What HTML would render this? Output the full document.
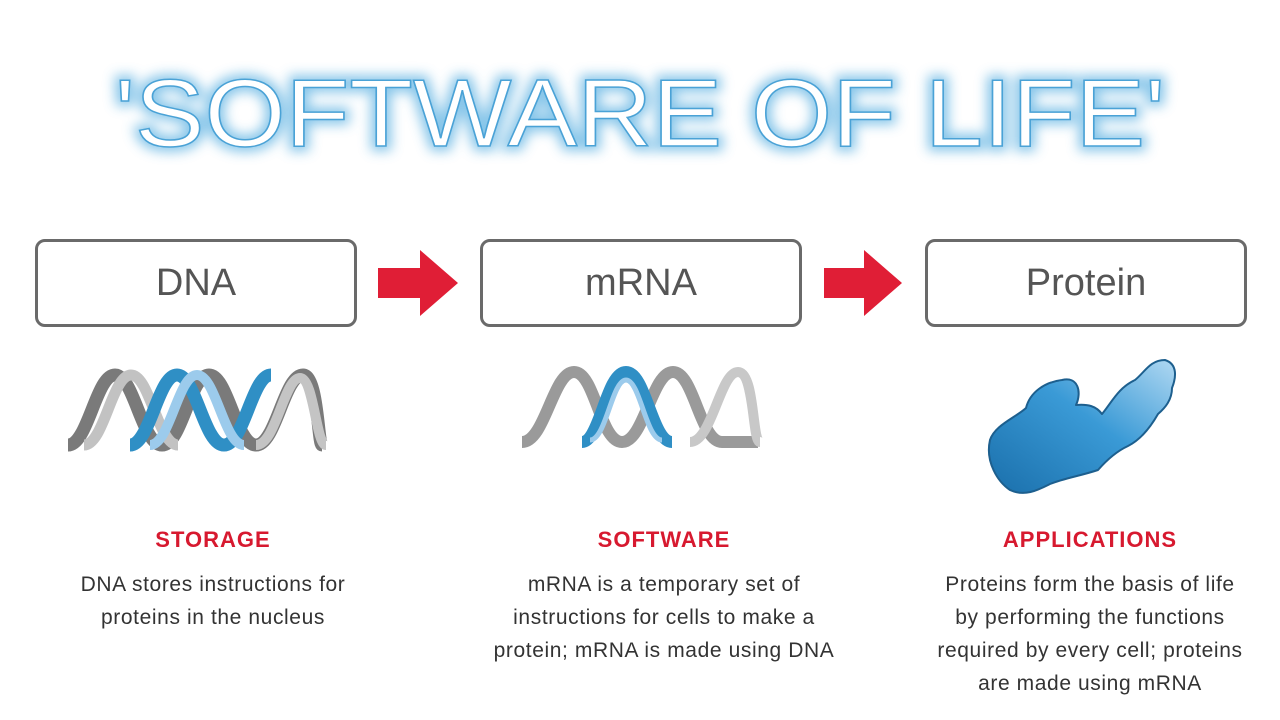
<!DOCTYPE html>
<html><head><meta charset="utf-8"><style>
body{margin:0;width:1280px;height:720px;background:#fff;overflow:hidden;position:relative;font-family:"Liberation Sans",sans-serif}
.box{position:absolute;top:239px;width:316px;height:82px;border:3px solid #6a6a6a;border-radius:10px;font-size:38px;color:#555;text-align:center;line-height:82px}
.h{position:absolute;width:400px;text-align:center;color:#d7192f;font-weight:bold;font-size:22px;top:527px;letter-spacing:1px}
.p{position:absolute;width:400px;text-align:center;color:#333;font-size:21px;line-height:33px;top:568px;letter-spacing:0.6px}
</style></head><body>
<svg width="1280" height="720" style="position:absolute;left:0;top:0">
<defs>
<filter id="g" x="-10%" y="-50%" width="120%" height="200%"><feGaussianBlur stdDeviation="6"/></filter>
<linearGradient id="pb" x1="0" y1="1" x2="1" y2="0"><stop offset="0" stop-color="#1a6fab"/><stop offset="0.55" stop-color="#3a9ad6"/><stop offset="1" stop-color="#b0d8f2"/></linearGradient>
</defs>
<text x="640" y="146" text-anchor="middle" font-family="Liberation Sans" font-size="96" textLength="1050" lengthAdjust="spacingAndGlyphs" fill="#5aaede" stroke="#6ab8e4" stroke-width="10" opacity="0.8" filter="url(#g)">'SOFTWARE OF LIFE'</text>
<text x="640" y="146" text-anchor="middle" font-family="Liberation Sans" font-size="96" textLength="1050" lengthAdjust="spacingAndGlyphs" fill="#fff" stroke="#4aa2d6" stroke-width="1.5">'SOFTWARE OF LIFE'</text>
<polygon points="378,268 420,268 420,250 458,283 420,316 420,298 378,298" fill="#e01e36"/>
<polygon points="824,268 864,268 864,250 902,283 864,316 864,298 824,298" fill="#e01e36"/>
<g fill="none" stroke-linecap="butt" stroke-linejoin="round">
<path d="M68,445 C88,445 96,375 115,375 C134,375 142,445 162,445 C182,445 190,375 209,375 C228,375 236,445 256,445 C276,445 284,375 303,375 C318,375 318,445 322,445" stroke="#7a7a7a" stroke-width="13"/>
<path d="M84,445 C104,445 112,375 131,375 C150,375 158,445 178,445" stroke="#c2c2c2" stroke-width="11"/>
<path d="M130,445 C150,445 158,375 177,375 C196,375 204,445 224,445 C244,445 252,375 271,375" stroke="#2f8fc5" stroke-width="13"/>
<path d="M150,445 C170,445 178,375 197,375 C216,375 224,445 244,445" stroke="#9ccbec" stroke-width="10"/>
<path d="M256,445 C276,445 284,378 300,378 C314,378 316,445 326,445" stroke="#c4c4c4" stroke-width="10"/>
<path d="M522,442 C545,442 553,372 574,372 C595,372 600,442 622,442 C644,442 652,372 673,372 C694,372 700,442 722,442 L758,442" stroke="#9a9a9a" stroke-width="12"/>
<path d="M582,442 C600,442 606,372 626,372 C646,372 652,442 672,442" stroke="#2f8fc5" stroke-width="12"/>
<path d="M590,440 C606,440 612,380 626,380 C640,380 646,440 662,440" stroke="#9ccbec" stroke-width="5"/>
<path d="M690,442 C712,442 720,372 738,372 C755,372 752,442 760,442" stroke="#c8c8c8" stroke-width="10"/>
</g>
<path d="M990,440 C995,425 1015,418 1026,408 C1030,392 1045,382 1062,380 C1078,376 1082,392 1076,405 C1088,404 1096,406 1102,414 C1112,402 1118,388 1135,380 C1145,372 1150,360 1165,360 C1178,364 1176,378 1172,388 C1172,400 1165,408 1158,414 C1150,428 1140,440 1128,446 C1115,452 1105,462 1098,470 C1080,476 1065,478 1050,484 C1038,490 1025,497 1010,490 C998,482 985,462 990,440 Z" fill="url(#pb)" stroke="#1d5f8e" stroke-width="2" stroke-linejoin="round"/>
</svg>
<div class="box" style="left:35px">DNA</div>
<div class="box" style="left:480px">mRNA</div>
<div class="box" style="left:925px">Protein</div>
<div class="h" style="left:13px">STORAGE</div>
<div class="h" style="left:464px">SOFTWARE</div>
<div class="h" style="left:890px">APPLICATIONS</div>
<div class="p" style="left:13px">DNA stores instructions for<br>proteins in the nucleus</div>
<div class="p" style="left:464px">mRNA is a temporary set of<br>instructions for cells to make a<br>protein; mRNA is made using DNA</div>
<div class="p" style="left:890px">Proteins form the basis of life<br>by performing the functions<br>required by every cell; proteins<br>are made using mRNA</div>
</body></html>
